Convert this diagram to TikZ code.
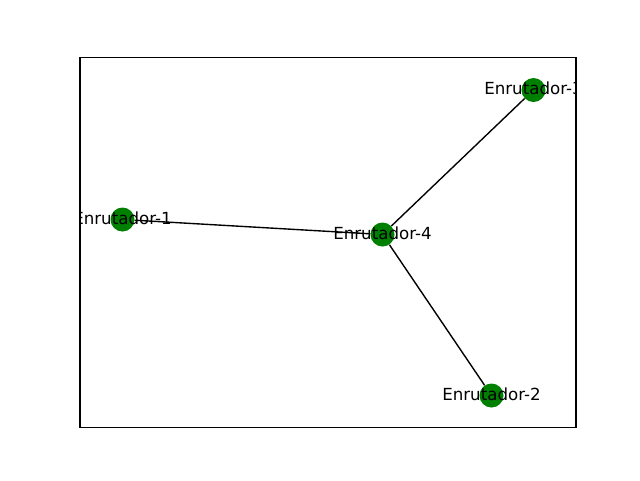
\documentclass[tikz,border=0pt]{standalone}
\usepackage{fontspec}
\setmainfont{DejaVu Sans}
\usetikzlibrary{positioning}

\begin{document}
\begin{tikzpicture}[x=0.75pt,y=0.75pt,yscale=-1,xscale=1,
  router/.style={circle,fill={rgb, 255:red, 0; green, 128; blue, 0},inner sep=0pt,minimum size=18pt},
  routerlabel/.style={anchor=base,inner sep=0pt,yshift=-3.6pt,font=\fontsize{12.5}{15}\selectfont},
  link/.style={line width=1.04pt}]
\useasboundingbox (0,0) rectangle (640,480);

\begin{scope}
\clip (80,57.6) rectangle (576,427.2);
%Shape: Circles
\node [router] (r1) at (122.5,219.5) {};
\node [router] (r2) at (491.5,395.5) {};
\node [router] (r3) at (533.5,90) {};
\node [router] (r4) at (382.5,234.5) {};

%Straight Lines
\draw [link] (r1) -- (r4);
\draw [link] (r4) -- (r3);
\draw [link] (r4) -- (r2);

% Text Node
\node [routerlabel] (l1) at (r1.center) {Enrutador-1};
% Text Node
\node [routerlabel] (l2) at (r2.center) {Enrutador-2};
% Text Node
\node [routerlabel] (l3) at (r3.center) {Enrutador-3};
% Text Node
\node [routerlabel] (l4) at (r4.center) {Enrutador-4};
\end{scope}

%Shape: Rectangle
\draw [line width=0.83pt] (80,57.6) rectangle (576,427.2);

\end{tikzpicture}
\end{document}
